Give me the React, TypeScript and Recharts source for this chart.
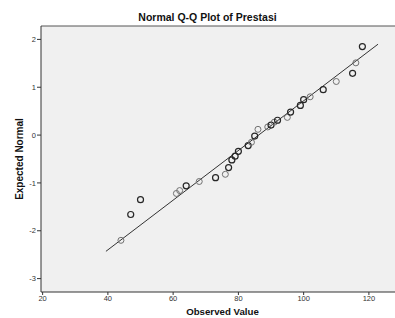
import React from "react";
import { ScatterChart, Scatter, XAxis, YAxis, CartesianGrid, ReferenceLine } from "recharts";

// observed values (sorted) and their expected normal quantiles
const observed = [44, 47, 50, 61, 62, 64, 68, 73, 76, 77, 78, 79, 80, 83, 84, 85, 86, 89, 90, 91, 92, 95, 96, 99, 100, 102, 106, 110, 115, 116, 118];
const expected = [-2.2, -1.66, -1.35, -1.22, -1.16, -1.06, -0.97, -0.89, -0.82, -0.68, -0.52, -0.44, -0.34, -0.22, -0.15, -0.02, 0.12, 0.17, 0.21, 0.27, 0.31, 0.37, 0.48, 0.62, 0.74, 0.8, 0.95, 1.12, 1.29, 1.51, 1.85];
// overlapping markers (ties) draw darker
const ties = [1, 2, 2, 1, 1, 2, 1, 2, 1, 2, 2, 2, 2, 2, 1, 2, 1, 1, 2, 1, 2, 1, 2, 2, 2, 1, 2, 1, 2, 1, 2];

// reference line endpoints
const fitX = [39.4, 122.8];
const fitY = [-2.43, 1.9];

const xTicks = [20, 40, 60, 80, 100, 120];
const yTicks = [-3, -2, -1, 0, 1, 2];

const FONT = "'Liberation Sans', Arial, sans-serif";

const points = observed.map((x, i) => ({ x, y: expected[i], n: ties[i] }));
const fitLine = fitX.map((x, i) => ({ x, y: fitY[i] }));

const Ring = (props: any) => {
  const { cx, cy, payload } = props;
  const dark = payload && payload.n > 1;
  return (
    <circle
      cx={cx}
      cy={cy}
      r={3}
      fill="none"
      stroke={dark ? "#262626" : "#707070"}
      strokeWidth={dark ? 1.2 : 1}
    />
  );
};

const tickStyle = { fontSize: 7.5, fill: "#333", fontFamily: FONT };

export default function App() {
  return (
    <div style={{ position: "absolute", left: 0, top: 0, width: 395, height: 318, background: "#fff", overflow: "hidden", fontFamily: FONT }}>
      <div style={{ position: "absolute", left: 0, width: 415, top: 10, textAlign: "center", fontSize: 10.5, fontWeight: "bold", color: "#111", lineHeight: "14px" }}>
        Normal Q-Q Plot of Prestasi
      </div>
      <div
        style={{
          position: "absolute",
          left: 19.5 - 60,
          top: 158.5 - 7,
          width: 120,
          height: 14,
          lineHeight: "14px",
          textAlign: "center",
          fontSize: 10,
          fontWeight: "bold",
          color: "#111",
          transform: "rotate(-90deg)",
        }}
      >
        Expected Normal
      </div>
      <div style={{ position: "absolute", left: 222.5 - 60, width: 120, top: 306, textAlign: "center", fontSize: 9.7, fontWeight: "bold", color: "#111", lineHeight: "12px" }}>
        Observed Value
      </div>
      <ScatterChart width={395} height={318} margin={{ top: 26, right: 0, bottom: 0, left: 0 }}>
        <CartesianGrid fill="#f0f0f0" fillOpacity={1} horizontal={false} vertical={false} />
        <XAxis
          type="number"
          dataKey="x"
          domain={[19.5, 128]}
          ticks={xTicks}
          allowDataOverflow
          height={26}
          tickSize={3}
          tickMargin={1}
          tick={tickStyle}
          axisLine={{ stroke: "#333" }}
          tickLine={{ stroke: "#333" }}
        />
        <YAxis
          type="number"
          dataKey="y"
          domain={[-3.28, 2.28]}
          ticks={yTicks}
          allowDataOverflow
          width={41}
          tickSize={4}
          tickMargin={1}
          tick={tickStyle}
          axisLine={{ stroke: "#333" }}
          tickLine={{ stroke: "#333" }}
        />
        <ReferenceLine y={2.28} stroke="#555" strokeWidth={1} />
        <Scatter data={fitLine} line={{ stroke: "#333", strokeWidth: 1 }} shape={() => <g />} isAnimationActive={false} />
        <Scatter data={points} shape={Ring} isAnimationActive={false} />
      </ScatterChart>
    </div>
  );
}
